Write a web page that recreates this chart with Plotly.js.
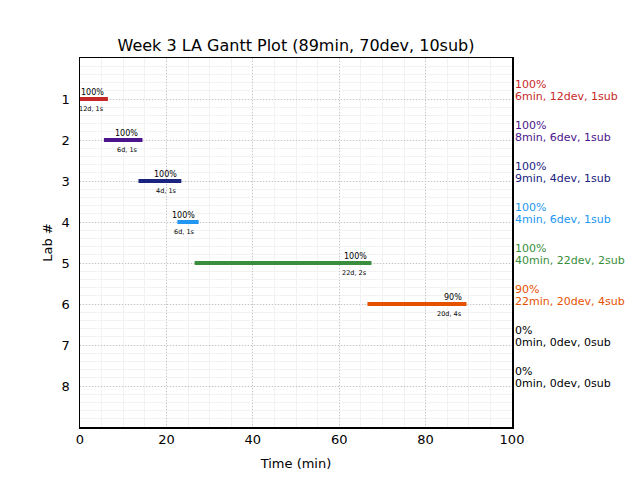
<!DOCTYPE html>
<html>
<head>
<meta charset="utf-8">
<script src="https://cdn.plot.ly/plotly-3.0.1.min.js"></script>
<style>
html,body{margin:0;padding:0;background:#fff;}
#chart{width:640px;height:480px;}
#chart .scatterlayer path.js-line{stroke-linecap:square;}
</style>
</head>
<body>
<div id="chart"></div>
<script>
const labs = [1, 2, 3, 4, 5, 6, 7, 8];
const starts = [0, 6, 14, 23, 27, 67, null, null];
const ends = [6, 14, 23, 27, 67, 89, null, null];
const percents = [100, 100, 100, 100, 100, 90, 0, 0];
const minutes = [6, 8, 9, 4, 40, 22, 0, 0];
const devs = [12, 6, 4, 6, 22, 20, 0, 0];
const subs = [1, 1, 1, 1, 2, 4, 0, 0];
const colors = ['#c62828', '#4a148c', '#1a237e', '#2196f3', '#388e3c', '#e65100', '#000000', '#000000'];
const xTicks = [0, 20, 40, 60, 80, 100];

const FONT = 'DejaVu Sans, sans-serif';
const traces = [];
const annotations = [];

labs.forEach((lab, i) => {
  if (starts[i] !== null) {
    traces.push({
      type: 'scatter', mode: 'lines',
      x: [starts[i], ends[i]], y: [lab, lab],
      line: {color: colors[i], width: 4},
      hoverinfo: 'skip', showlegend: false
    });
    annotations.push({
      x: ends[i], y: lab, xref: 'x', yref: 'y',
      text: percents[i] + '%', showarrow: false,
      xanchor: 'right', yanchor: 'middle', yshift: 7,
      font: {family: FONT, size: 8, color: '#000'}
    });
    annotations.push({
      x: ends[i], y: lab, xref: 'x', yref: 'y',
      text: devs[i] + 'd, ' + subs[i] + 's', showarrow: false,
      xanchor: 'right', yanchor: 'middle', yshift: -10,
      font: {family: FONT, size: 6.5, color: '#000'}
    });
  }
  annotations.push({
    x: 1.0, y: lab, xref: 'paper', yref: 'y',
    text: percents[i] + '%', showarrow: false,
    xanchor: 'left', yanchor: 'middle', yshift: 15, xshift: 0.5,
    font: {family: FONT, size: 11, color: colors[i]}
  });
  annotations.push({
    x: 1.0, y: lab, xref: 'paper', yref: 'y',
    text: minutes[i] + 'min, ' + devs[i] + 'dev, ' + subs[i] + 'sub', showarrow: false,
    xanchor: 'left', yanchor: 'middle', yshift: 3, xshift: 0.5,
    font: {family: FONT, size: 11, color: colors[i]}
  });
});

const totalMin = minutes.reduce((a, b) => a + b, 0);
const totalDev = devs.reduce((a, b) => a + b, 0);
const totalSub = subs.reduce((a, b) => a + b, 0);

const layout = {
  width: 640, height: 480,
  margin: {l: 80, r: 128, t: 58, b: 53},
  paper_bgcolor: '#fff', plot_bgcolor: '#fff',
  font: {family: FONT, size: 13, color: '#000'},
  title: {
    text: 'Week 3 LA Gantt Plot (' + totalMin + 'min, ' + totalDev + 'dev, ' + totalSub + 'sub)',
    font: {family: FONT, size: 16, color: '#000'},
    x: 0.5, xref: 'paper', xanchor: 'center', y: 1, yref: 'paper', yanchor: 'bottom', pad: {b: 7}
  },
  xaxis: {
    range: [0, 100], tickvals: xTicks, ticks: '',
    showline: true, mirror: true, linecolor: '#000', linewidth: 1.5,
    showgrid: true, gridcolor: '#c4c4c4', griddash: '1px,2px', gridwidth: 1,
    zeroline: false,
    minor: {dtick: 5, tick0: 0, showgrid: true, gridcolor: '#f2f2f2', griddash: 'solid', gridwidth: 1, ticks: ''},
    title: {text: 'Time (min)', font: {family: FONT, size: 13}, standoff: 13},
    tickfont: {family: FONT, size: 13}
  },
  yaxis: {
    range: [9, 0], tickvals: labs, ticktext: labs.map(String), ticks: '',
    showline: true, mirror: true, linecolor: '#000', linewidth: 1.5,
    showgrid: true, gridcolor: '#c4c4c4', griddash: '1px,2px', gridwidth: 1,
    zeroline: false,
    minor: {dtick: 0.2, tick0: 0, showgrid: true, gridcolor: '#f2f2f2', griddash: 'solid', gridwidth: 1, ticks: ''},
    title: {text: 'Lab #', font: {family: FONT, size: 13}, standoff: 6},
    tickfont: {family: FONT, size: 13},
    ticklabelstandoff: 6
  },
  annotations: annotations,
  showlegend: false
};

Plotly.newPlot('chart', traces, layout, {staticPlot: true, displayModeBar: false});
</script>
</body>
</html>
